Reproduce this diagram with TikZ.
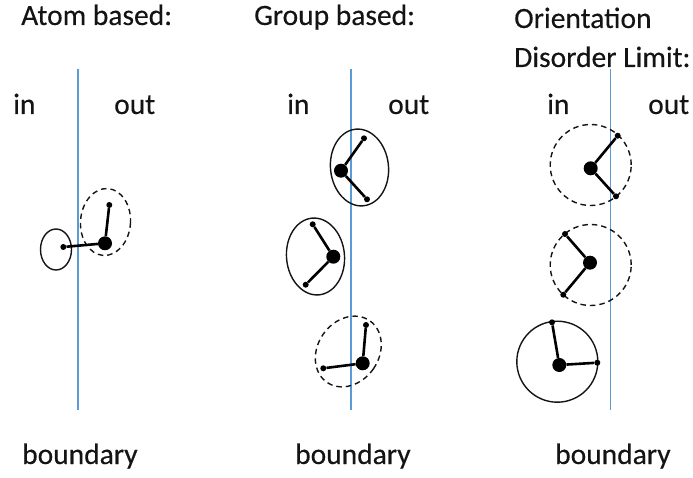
\documentclass[tikz,border=0pt]{standalone}
\usepackage{fontspec}
\setmainfont[FakeBold=0.25]{Carlito}
\usetikzlibrary{shapes.geometric}
\definecolor{bline}{RGB}{91,155,213}
\definecolor{ink}{RGB}{20,20,20}
\tikzset{
 x=1pt,y=-1pt,
 lbl/.style={font=\fontsize{29.5}{29.5}\selectfont,text=ink,inner sep=0pt,anchor=base west},
 big/.style={circle,fill=black,inner sep=0pt,minimum size=14pt},
 small/.style={circle,fill=black,inner sep=0pt,minimum size=6pt},
 bond/.style={line width=2.6pt,black},
 wall/.style={line width=1.8pt,bline},
 solidring/.style={ellipse,draw=ink,line width=1.4pt,inner sep=0pt},
 dashring/.style={ellipse,draw=ink,line width=1.4pt,inner sep=0pt,dash pattern=on 5.5pt off 4pt},
}
\newcommand{\molec}[7]{%
 \node[big] (#1b) at (#2,#3) {};
 \node[small] (#1s) at (#4,#5) {};
 \node[small] (#1t) at (#6,#7) {};
 \draw[bond] (#1b) -- (#1s);
 \draw[bond] (#1b) -- (#1t);}
\begin{document}
\begin{tikzpicture}
\useasboundingbox (0,0) rectangle (693,478);
% walls
\coordinate (a1) at (78,69); \coordinate (a2) at (78,410);
\coordinate (b1) at (351,69); \coordinate (b2) at (351,410);
\coordinate (c1) at (610.5,69); \coordinate (c2) at (610.5,410);
\draw[wall] (a1) -- (a2);
\draw[wall] (b1) -- (b2);
\draw[wall] (c1) -- (c2);
% labels
\node[lbl] (t1) at (21,25) {Atom based:};
\node[lbl] (t2) at (254,25) {Group based:};
\node[lbl] (t3a) at (514,28) {Orientation};
\node[lbl] (t3b) at (514,67) {Disorder Limit:};
\node[lbl] (i1) at (13,114) {in};
\node[lbl] (o1) at (114,114) {out};
\node[lbl] (i2) at (287,114) {in};
\node[lbl] (o2) at (388,114) {out};
\node[lbl] (i3) at (547,114) {in};
\node[lbl] (o3) at (648,114) {out};
\node[lbl] (f1) at (22,464) {boundary};
\node[lbl] (f2) at (295,464) {boundary};
\node[lbl] (f3) at (555,464) {boundary};
% panel 1
\node[dashring,minimum width=50pt,minimum height=67pt,rotate=-4] (r1) at (105.5,222) {};
\node[solidring,minimum width=31pt,minimum height=41pt] (r2) at (56,249.5) {};
\node[big] (m1b) at (105,243.3) {};
\node[small] (m1s) at (109.3,205) {};
\node[small] (m1t) at (63.3,247) {};
\draw[bond] (m1b) -- (m1s);
\draw[bond] (m1b) -- (m1t);
% panel 2
\node[solidring,minimum width=58pt,minimum height=77pt,rotate=6] (r3) at (359.5,167.5) {};
\molec{m2}{341}{170.7}{364}{138.3}{367}{199.3}
\node[solidring,minimum width=58pt,minimum height=77pt,rotate=5] (r4) at (315.5,256.5) {};
\molec{m3}{333.3}{256.7}{312.7}{224.3}{305.7}{284.7}
\node[dashring,minimum width=61pt,minimum height=75pt,rotate=-35] (r5) at (348.3,351.5) {};
\molec{m4}{362.7}{363.3}{366}{325}{323.3}{368.3}
% panel 3
\node[dashring,minimum width=81pt,minimum height=81pt] (r6) at (590.7,165) {};
\molec{m5}{590.7}{168.3}{617.7}{135.7}{616}{196.3}
\node[dashring,minimum width=81pt,minimum height=81pt] (r7) at (590.7,265) {};
\molec{m6}{590}{262.7}{565}{234}{563.3}{294.7}
\node[solidring,minimum width=81pt,minimum height=81pt] (r8) at (557.3,361.7) {};
\molec{m7}{559.3}{365}{552}{322.3}{597.3}{362.7}
\end{tikzpicture}
\end{document}
